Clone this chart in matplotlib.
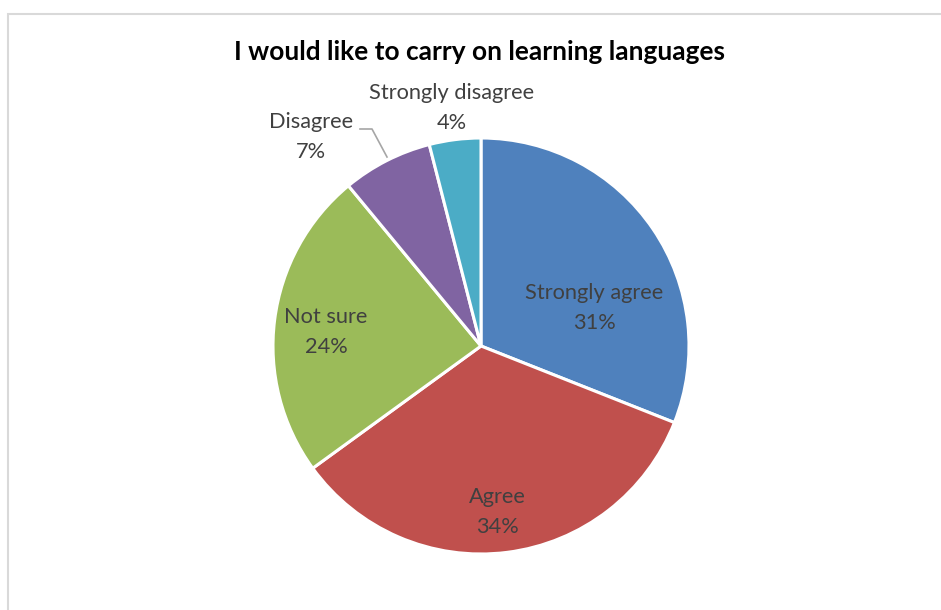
import matplotlib
matplotlib.use('Agg')
import matplotlib.pyplot as plt
from matplotlib.patches import Rectangle

# respostas da pesquisa
categorias = ['Strongly agree', 'Agree', 'Not sure', 'Disagree', 'Strongly disagree']
percentuais = [31, 34, 24, 7, 4]
cores = ['#4F81BD', '#C0504D', '#9BBB59', '#8064A2', '#4BACC6']
titulo = 'I would like to carry on learning languages'

plt.rcParams['font.family'] = ['Lato', 'DejaVu Sans']

W, H = 941, 610
fig = plt.figure(figsize=(W / 100, H / 100), dpi=100)
ax = fig.add_axes([0, 0, 1, 1])

# moldura do gráfico
ax.add_patch(Rectangle((8, -20), 960, H - 14 + 20, fill=False,
                       edgecolor='#D9D9D9', linewidth=1.5))

cx, cy, raio = 481, H - 346, 208
fatias, _ = ax.pie(percentuais, colors=cores, startangle=90, counterclock=False,
                   center=(cx, cy), radius=raio, frame=True,
                   wedgeprops=dict(edgecolor='white', linewidth=2.2))
ax.set_xlim(0, W)
ax.set_ylim(0, H)
ax.set_aspect('equal')
ax.axis('off')

# posições dos rótulos (em pixels a partir do topo)
pos_rotulos = [(594, 308), (497, 512), (326, 332), (311, 137), (452, 108)]
for nome, val, (x, y) in zip(categorias, percentuais, pos_rotulos):
    ax.text(x, H - y, f'{nome}\n{val}%', ha='center', va='center',
            fontsize=15.7, color='#404040', linespacing=1.65)

# linha guia para "Disagree"
ax.plot([360, 372, 387], [H - 129, H - 129, H - 157], color='#A6A6A6', lw=1.2)

ax.text(480, H - 52, titulo, ha='center', va='center', fontsize=18.9,
        fontweight='bold', color='black')

fig.savefig('out.png', dpi=100)
